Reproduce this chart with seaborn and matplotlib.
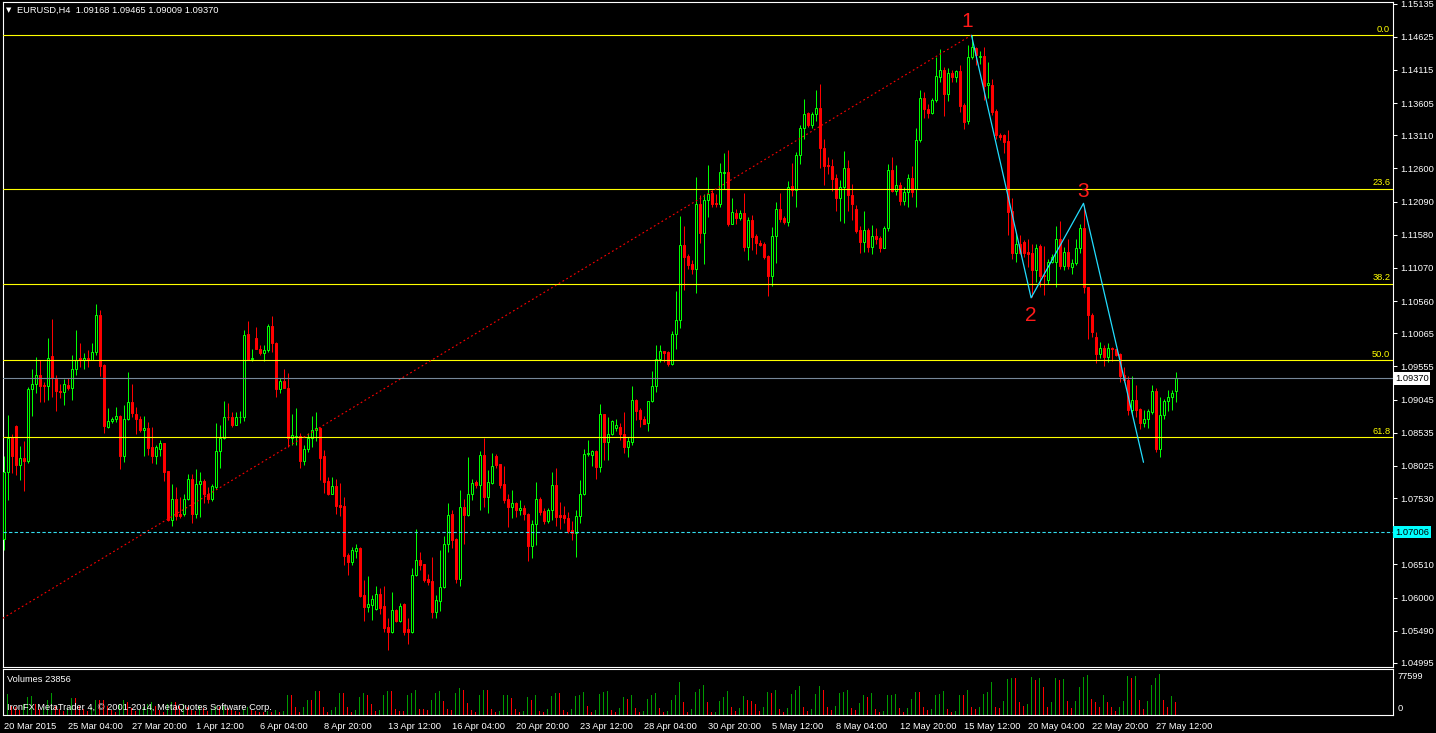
import matplotlib
matplotlib.use("Agg")
import matplotlib.pyplot as plt
import matplotlib.transforms as mtransforms
from matplotlib.patches import Rectangle
import numpy as np
import pandas as pd
import seaborn as sns

# EURUSD H4 candles, prices stored as pips above 1.0000
opens = [
    690, 793, 847, 864, 804, 814, 810, 920, 929, 942,
    927, 926, 971, 937, 918, 916, 927, 923, 952, 968,
    966, 969, 966, 978, 1035, 958, 863, 871, 874, 879,
    818, 874, 900, 883, 875, 857, 860, 831, 818, 829,
    837, 794, 720, 751, 728, 728, 752, 783, 729, 775,
    779, 760, 751, 770, 825, 845, 878, 878, 865, 877,
    877, 1005, 967, 999, 983, 976, 980, 1018, 992, 920,
    933, 923, 846, 847, 848, 810, 829, 845, 857, 860,
    817, 779, 760, 772, 742, 741, 665, 655, 672, 676,
    604, 586, 589, 582, 606, 587, 555, 547, 581, 564,
    590, 552, 547, 634, 658, 651, 628, 625, 578, 595,
    616, 682, 728, 690, 628, 739, 727, 759, 777, 773,
    819, 754, 776, 818, 805, 774, 751, 740, 746, 734,
    737, 729, 680, 713, 751, 733, 717, 735, 773, 727,
    727, 723, 704, 700, 725, 760, 821, 819, 825, 801,
    882, 839, 851, 860, 863, 852, 832, 839, 904, 888,
    875, 868, 902, 925, 967, 979, 977, 959, 1005, 1027,
    1142, 1126, 1113, 1105, 1206, 1160, 1212, 1222, 1207, 1206,
    1253, 1254, 1175, 1191, 1184, 1191, 1139, 1180, 1156, 1145,
    1144, 1125, 1095, 1156, 1198, 1183, 1178, 1233, 1227, 1280,
    1322, 1346, 1327, 1344, 1353, 1292, 1265, 1264, 1245, 1215,
    1231, 1260, 1219, 1197, 1165, 1147, 1166, 1139, 1156, 1153,
    1138, 1169, 1257, 1225, 1235, 1210, 1224, 1246, 1229, 1304,
    1369, 1351, 1346, 1365, 1401, 1411, 1375, 1406, 1401, 1410,
    1357, 1333, 1431, 1445, 1431, 1433, 1388, 1388, 1349, 1311,
    1311, 1302, 1195, 1130, 1144, 1147, 1132, 1130, 1104, 1140,
    1096, 1089, 1116, 1116, 1152, 1110, 1131, 1108, 1115, 1138,
    1168, 1077, 1034, 1001, 974, 984, 970, 984, 982, 974,
    942, 935, 888, 904, 890, 869, 875, 886, 918, 828,
    881, 902, 909, 917,
]
highs = [
    817, 881, 852, 865, 833, 841, 924, 952, 970, 965,
    932, 999, 1028, 942, 929, 936, 937, 973, 1012, 991,
    976, 981, 992, 1051, 1042, 959, 891, 878, 893, 881,
    896, 947, 929, 893, 879, 879, 870, 863, 834, 843,
    837, 794, 774, 770, 754, 759, 790, 790, 798, 793,
    782, 770, 775, 868, 866, 902, 899, 886, 886, 887,
    1012, 1025, 982, 1016, 988, 988, 1020, 1033, 993, 937,
    952, 946, 883, 891, 853, 835, 853, 879, 885, 863,
    827, 786, 786, 783, 776, 755, 668, 678, 682, 677,
    627, 633, 604, 618, 614, 617, 568, 609, 583, 592,
    592, 568, 645, 705, 670, 652, 636, 663, 604, 673,
    694, 745, 735, 691, 765, 751, 816, 782, 781, 825,
    846, 796, 823, 821, 805, 802, 760, 766, 747, 750,
    742, 730, 719, 778, 755, 737, 738, 793, 799, 747,
    741, 732, 717, 735, 781, 829, 843, 827, 827, 898,
    882, 878, 873, 875, 869, 885, 847, 925, 906, 892,
    879, 903, 948, 988, 988, 979, 979, 1010, 1072, 1187,
    1172, 1129, 1119, 1247, 1219, 1221, 1265, 1227, 1221, 1268,
    1283, 1288, 1215, 1198, 1196, 1222, 1186, 1188, 1159, 1150,
    1147, 1127, 1170, 1209, 1222, 1187, 1240, 1268, 1286, 1327,
    1367, 1347, 1347, 1380, 1390, 1306, 1278, 1275, 1252, 1242,
    1287, 1273, 1236, 1203, 1172, 1194, 1169, 1173, 1169, 1156,
    1171, 1267, 1277, 1265, 1239, 1231, 1251, 1263, 1322, 1380,
    1378, 1359, 1369, 1431, 1443, 1416, 1414, 1412, 1412, 1419,
    1361, 1450, 1465, 1446, 1440, 1446, 1423, 1397, 1352, 1314,
    1313, 1319, 1214, 1160, 1157, 1150, 1151, 1144, 1144, 1144,
    1140, 1121, 1129, 1171, 1179, 1139, 1152, 1121, 1151, 1174,
    1203, 1078, 1037, 1009, 993, 988, 991, 986, 983, 976,
    955, 940, 940, 927, 891, 888, 890, 927, 922, 909,
    906, 919, 919, 947,
]
lows = [
    673, 750, 791, 788, 781, 764, 807, 879, 914, 901,
    901, 904, 909, 887, 907, 896, 919, 904, 942, 955,
    952, 955, 965, 973, 940, 853, 860, 868, 870, 798,
    809, 873, 878, 852, 854, 817, 819, 807, 806, 817,
    780, 717, 710, 719, 722, 725, 750, 715, 723, 724,
    746, 746, 749, 767, 799, 844, 873, 863, 865, 868,
    872, 965, 964, 982, 973, 964, 978, 978, 909, 914,
    922, 831, 835, 835, 800, 804, 824, 832, 840, 781,
    761, 758, 759, 728, 725, 650, 635, 650, 661, 601,
    564, 577, 565, 581, 575, 547, 519, 545, 563, 563,
    542, 529, 546, 633, 642, 624, 619, 569, 569, 580,
    614, 670, 676, 622, 618, 682, 725, 750, 768, 735,
    740, 730, 775, 800, 769, 746, 709, 722, 724, 727,
    719, 656, 661, 681, 727, 713, 715, 719, 710, 706,
    714, 699, 689, 663, 714, 758, 818, 802, 782, 793,
    811, 811, 850, 856, 843, 822, 816, 834, 873, 862,
    867, 856, 901, 916, 962, 962, 956, 957, 983, 1014,
    1073, 1106, 1098, 1069, 1145, 1113, 1185, 1201, 1201, 1201,
    1229, 1172, 1174, 1174, 1181, 1133, 1119, 1134, 1128, 1140,
    1121, 1064, 1079, 1115, 1178, 1175, 1171, 1217, 1200, 1267,
    1306, 1324, 1322, 1333, 1260, 1234, 1252, 1226, 1195, 1179,
    1176, 1195, 1181, 1161, 1130, 1132, 1132, 1128, 1143, 1132,
    1137, 1164, 1223, 1219, 1203, 1204, 1200, 1216, 1200, 1301,
    1338, 1338, 1344, 1362, 1393, 1341, 1364, 1393, 1393, 1347,
    1321, 1328, 1429, 1419, 1420, 1365, 1369, 1342, 1306, 1303,
    1283, 1157, 1120, 1116, 1129, 1124, 1109, 1062, 1085, 1078,
    1066, 1083, 1114, 1078, 1106, 1103, 1106, 1098, 1112, 1130,
    1069, 998, 1001, 961, 969, 956, 963, 964, 971, 932,
    932, 881, 883, 878, 859, 863, 861, 883, 824, 816,
    874, 887, 888, 901,
]
closes = [
    793, 845, 817, 804, 814, 810, 920, 929, 942, 926,
    925, 969, 937, 917, 916, 928, 923, 952, 966, 965,
    969, 965, 978, 1035, 956, 864, 871, 874, 879, 818,
    874, 900, 884, 874, 857, 861, 830, 817, 831, 837,
    793, 719, 751, 726, 725, 752, 783, 729, 775, 779,
    759, 751, 771, 825, 845, 878, 877, 865, 878, 878,
    1004, 966, 968, 982, 976, 980, 1018, 991, 920, 933,
    922, 846, 850, 849, 810, 829, 845, 858, 860, 815,
    777, 760, 772, 741, 739, 664, 655, 673, 676, 602,
    586, 590, 597, 606, 584, 553, 547, 581, 564, 587,
    547, 547, 634, 658, 650, 627, 624, 578, 596, 616,
    682, 727, 688, 628, 739, 727, 759, 776, 773, 819,
    754, 777, 803, 804, 773, 750, 740, 746, 735, 737,
    729, 680, 713, 751, 732, 717, 735, 773, 724, 724,
    722, 702, 700, 725, 760, 821, 823, 825, 801, 883,
    839, 851, 871, 865, 852, 832, 840, 904, 887, 874,
    867, 902, 925, 967, 979, 976, 959, 1005, 1027, 1142,
    1124, 1111, 1105, 1206, 1160, 1212, 1221, 1206, 1205, 1254,
    1254, 1175, 1193, 1184, 1191, 1139, 1180, 1155, 1145, 1142,
    1124, 1095, 1156, 1198, 1182, 1178, 1232, 1227, 1280, 1322,
    1344, 1327, 1344, 1353, 1292, 1264, 1263, 1244, 1215, 1231,
    1260, 1219, 1206, 1164, 1147, 1166, 1139, 1156, 1151, 1138,
    1169, 1257, 1225, 1235, 1210, 1224, 1246, 1224, 1304, 1368,
    1351, 1346, 1365, 1402, 1411, 1375, 1406, 1401, 1410, 1356,
    1332, 1431, 1446, 1434, 1433, 1387, 1392, 1347, 1311, 1309,
    1301, 1193, 1130, 1144, 1130, 1130, 1129, 1104, 1138, 1094,
    1094, 1116, 1123, 1152, 1110, 1131, 1110, 1115, 1138, 1168,
    1077, 1034, 1008, 974, 984, 970, 984, 982, 973, 941,
    934, 888, 904, 888, 869, 875, 887, 918, 828, 881,
    902, 909, 915, 937,
]
# tick volume per bar, thousands
volumes_k = [
    38.5, 39.1, 17.9, 14.7, 9.6, 21.2, 34.0, 35.3, 21.2, 11.5,
    14.7, 27.6, 41.7, 17.9, 11.5, 8.3, 13.5, 32.1, 32.1, 17.9,
    11.5, 8.3, 14.7, 27.6, 27.6, 27.6, 17.9, 9.6, 6.4, 21.2,
    27.6, 24.4, 13.5, 8.3, 9.6, 14.7, 21.2, 24.4, 17.9, 9.6,
    6.4, 21.2, 24.4, 24.4, 17.9, 21.2, 14.7, 9.6, 8.3, 17.9,
    13.5, 8.3, 11.5, 17.9, 16.0, 17.9, 13.5, 9.6, 8.3, 6.4,
    11.5, 14.7, 9.6, 8.3, 6.4, 5.1, 8.3, 6.4, 9.6, 6.4,
    8.3, 37.2, 37.2, 16.0, 5.1, 16.0, 27.6, 27.6, 44.9, 44.9,
    16.0, 5.1, 9.6, 16.0, 41.7, 41.7, 16.0, 5.1, 9.6, 34.0,
    41.7, 38.5, 21.2, 8.3, 9.6, 38.5, 44.9, 44.9, 11.5, 8.3,
    8.3, 38.5, 41.7, 48.1, 11.5, 11.5, 9.6, 27.6, 41.7, 45.5,
    25.6, 11.5, 9.6, 41.7, 51.9, 46.8, 22.4, 9.6, 6.4, 38.5,
    48.1, 48.1, 11.5, 6.4, 8.3,
    37.2, 38.5, 32.7, 11.5, 5.1, 8.3, 34.0, 28.8, 37.2, 8.3,
    6.4, 11.5, 35.3, 41.7, 41.7, 9.6, 6.4, 11.5, 35.3, 37.2,
    42.9, 17.9, 6.4, 9.6, 39.1, 43.6, 45.5, 9.6, 6.4, 13.5,
    34.0, 30.8, 37.2, 13.5, 6.4, 8.3, 30.8, 37.2, 41.7, 13.5,
    6.4, 8.3, 28.8, 38.5, 62.2, 24.4, 5.1, 11.5, 43.6, 49.4,
    56.4, 24.4, 5.1, 6.4, 26.3, 34.0, 44.9, 14.7, 8.3, 13.5,
    35.3, 27.6, 26.3, 19.9, 8.3, 16.0, 42.9, 41.7, 46.8, 11.5,
    5.1, 13.5, 39.1, 46.8, 54.5, 16.0, 8.3, 11.5, 39.1, 54.5,
    46.8, 16.0, 9.6, 17.9, 41.7, 43.6, 46.8, 12.8, 9.6, 22.4,
    37.2, 34.0, 41.7, 11.5, 5.1, 8.3, 37.2, 38.5, 40.4, 12.8,
    5.1, 12.8, 30.8, 43.6, 43.6, 14.7, 9.6, 11.5, 37.2, 40.4,
    45.5, 11.5, 5.1, 8.3, 37.2, 37.2, 46.8, 14.7, 11.5, 14.7,
    40.4, 43.6, 62.2, 14.7,
    12.8, 25.6, 67.9, 69.9, 69.9, 24.4, 17.9, 19.9, 71.8, 66.0,
    69.9, 53.2, 16.0, 23.7, 69.9, 66.0, 67.9, 25.6, 14.1, 25.6,
    53.2, 71.8, 75.6, 29.5, 23.7, 16.0, 37.2, 23.7, 16.0, 8.3,
    16.0, 25.6, 73.7, 69.9, 73.7, 27.6, 11.5, 25.6, 56.4, 69.9,
    77.599, 27.6, 16.0, 35.3, 23.856,
]

time_labels = ["20 Mar 2015", "25 Mar 04:00", "27 Mar 20:00", "1 Apr 12:00",
               "6 Apr 04:00", "8 Apr 20:00", "13 Apr 12:00", "16 Apr 04:00",
               "20 Apr 20:00", "23 Apr 12:00", "28 Apr 04:00", "30 Apr 20:00",
               "5 May 12:00", "8 May 04:00", "12 May 20:00", "15 May 12:00",
               "20 May 04:00", "22 May 20:00", "27 May 12:00"]
label_step = 16
price_ticks = [1.15135, 1.14625, 1.14115, 1.13605, 1.13110, 1.12600, 1.12090,
               1.11580, 1.11070, 1.10560, 1.10065, 1.09555, 1.09045, 1.08535,
               1.08025, 1.07530, 1.06510, 1.06000, 1.05490, 1.04995]

fib_high = 1.1465
fib_low = 1.0465
fib_bars = [-28, 242]
fib_ratios = [0.0, 0.236, 0.382, 0.5, 0.618]
fib_labels = ["0.0", "23.6", "38.2", "50.0", "61.8"]

wave_bars = [242, 256.9, 270, 285]
wave_prices = [1.14647, 1.1061, 1.12063, 1.0808]
wave_names = ["1", "2", "3"]
wave_label_pos = [(240.9, 1.14867), (256.9, 1.1034), (269.9, 1.12242)]

bid_price = 1.09370
level_price = 1.07006
vol_max = 77599

BULL = "#00ff00"
BEAR = "#ff0000"
VOL_UP = "#009a00"
VOL_DOWN = "#ff0000"
FIB = "#ffff00"
CYAN = "#22ddff"
FS = 6.7
PX = 0.72  # one pixel in points

sns.set_theme(style="dark", rc={
    "axes.facecolor": "black", "figure.facecolor": "black",
    "axes.edgecolor": "white", "text.color": "white",
    "xtick.color": "white", "ytick.color": "white", "axes.grid": False,
})
plt.rcParams["font.family"] = ["Liberation Sans", "DejaVu Sans"]

df = pd.DataFrame({
    "bar": np.arange(len(closes)),
    "open": 1 + np.array(opens) / 10000,
    "high": 1 + np.array(highs) / 10000,
    "low": 1 + np.array(lows) / 10000,
    "close": 1 + np.array(closes) / 10000,
})
df["up"] = df["close"] >= df["open"]

vol = np.array(volumes_k) * 1000
vdf = pd.DataFrame({"bar": df["bar"], "vol": vol})
vdf["dir"] = np.where(vdf["vol"].diff().fillna(1) > 0, "up", "down")

W, H = 1436, 733
fig = plt.figure(figsize=(W / 100, H / 100), dpi=100)


def fx(px):
    return px / W


def fy(py):
    return 1 - py / H


ax = fig.add_axes([fx(2.7), fy(667.3), fx(1393.3) - fx(2.7), fy(2.3) - fy(667.3)])
axv = fig.add_axes([fx(2.7), fy(715), fx(1393.3) - fx(2.7), fy(669.3) - fy(715)])
# 4 px per bar, bar centres on pixel centres
XLIM = (-0.2, -0.2 + (1393.3 - 2.7) / 4)

# wicks
for up, col in [(True, BULL), (False, BEAR)]:
    d = df[df["up"] == up]
    ax.vlines(d["bar"], d["low"], d["high"], color=col, lw=PX, zorder=2)

# bodies: bull hollow, bear filled
for r in df.itertuples():
    lo, hi = min(r.open, r.close), max(r.open, r.close)
    if r.up:
        fc, ec = "black", BULL
    else:
        fc, ec = BEAR, BEAR
    ax.add_patch(Rectangle((r.bar - 0.25, lo), 0.5, hi - lo, facecolor=fc,
                           edgecolor=ec, lw=PX, zorder=3))

blend = mtransforms.blended_transform_factory(ax.transAxes, ax.transData)

# fibonacci levels
for ratio, lab in zip(fib_ratios, fib_labels):
    lvl = fib_high - ratio * (fib_high - fib_low)
    ax.axhline(lvl, color=FIB, lw=0.8, zorder=4)
    ax.text(0.9978, lvl + 0.00018, lab, transform=blend, ha="right", va="bottom",
            color=FIB, fontsize=FS, zorder=5)
ax.plot(fib_bars, [fib_low, fib_high], color=BEAR, lw=0.8,
        ls=(0, (1.6, 2.4)), zorder=4)

# bid and level lines
ax.axhline(bid_price, color="#778899", lw=0.8, zorder=4)
ax.axhline(level_price, color="#33ddee", lw=0.8, ls=(0, (3, 2)), zorder=4)

# elliott wave count
ax.plot(wave_bars, wave_prices, color=CYAN, lw=0.9, zorder=5)
for name, (bx, by) in zip(wave_names, wave_label_pos):
    ax.text(bx, by, name, color="#ff1a1a", fontsize=15, ha="center", va="center",
            zorder=6)

ax.set_xlim(*XLIM)
ax.set_ylim(1.04927, 1.15155)
ax.yaxis.tick_right()
ax.set_yticks(price_ticks)
ax.set_yticklabels([f"{p:.5f}" for p in price_ticks])
ax.tick_params(axis="y", colors="white", labelsize=FS, length=3, width=0.75,
               pad=2, direction="out")
ax.tick_params(axis="x", bottom=False, labelbottom=False)

ax.text(1.0012, bid_price, f"{bid_price:.5f}", transform=blend, ha="left",
        va="center", color="black", fontsize=FS, clip_on=False, zorder=7,
        bbox=dict(boxstyle="square,pad=0.18", fc="white", ec="none"))
ax.text(1.0012, level_price, f"{level_price:.5f}", transform=blend, ha="left",
        va="center", color="black", fontsize=FS, clip_on=False, zorder=7,
        bbox=dict(boxstyle="square,pad=0.18", fc="#00ffff", ec="none"))

# volumes: green when volume rises against the previous bar
sns.barplot(data=vdf, x="bar", y="vol", native_scale=True, width=0.25,
            errorbar=None, color=VOL_UP, saturation=1, ax=axv)
vol_colors = vdf["dir"].map({"up": VOL_UP, "down": VOL_DOWN}).tolist()
for p, c in zip(axv.patches, vol_colors):
    p.set_facecolor(c)
    p.set_edgecolor("none")
    p.set_linewidth(0)
axv.set_xlim(*XLIM)
axv.set_ylim(0, vol_max * 1.115)
axv.set_xlabel("")
axv.set_ylabel("")
axv.set_yticks([])
ticks = list(range(0, label_step * len(time_labels), label_step))
axv.set_xticks(ticks)
axv.set_xticklabels(time_labels, ha="left")
axv.tick_params(axis="x", colors="white", labelsize=FS, length=4, width=0.75, pad=1)
axv.text(1.003, 0.838, str(vol_max), transform=axv.transAxes, ha="left",
         va="center", color="white", fontsize=FS, clip_on=False)
axv.text(1.003, 0.147, "0", transform=axv.transAxes, ha="left", va="center",
         color="white", fontsize=FS, clip_on=False)

for a in (ax, axv):
    for s in a.spines.values():
        s.set_color("white")
        s.set_linewidth(0.8)

fig.text(fx(17), fy(10), "EURUSD,H4  1.09168 1.09465 1.09009 1.09370",
         color="white", fontsize=FS, va="center", ha="left")
fig.text(fx(6), fy(10), "\u25bc", color="white", fontsize=5, va="center", ha="left",
         family="DejaVu Sans")
fig.text(fx(7), fy(679), f"Volumes {int(round(vol[-1]))}", color="white",
         fontsize=FS, va="center", ha="left")
fig.text(fx(7), fy(708), "IronFX MetaTrader 4, \u00a9 2001-2014, MetaQuotes Software Corp.",
         color="white", fontsize=FS, va="center", ha="left")

fig.savefig("out.png", dpi=100, facecolor="black")
